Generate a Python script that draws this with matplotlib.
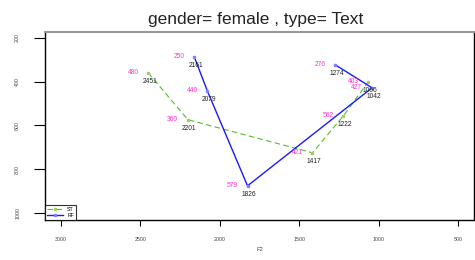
import matplotlib
matplotlib.use("Agg")
import matplotlib.pyplot as plt

# datos: F2 (eje x) y F1 (eje y) por serie
f2_blue = [2161, 2079, 1826, 1042, 1274]
f1_blue = [287, 442, 876, 428, 323]
lab_blue = ["250", "440", "579", "427", "276"]

f2_green = [2451, 2201, 1417, 1222, 1066]
f1_green = [360, 574, 725, 556, 401]
lab_green = ["480", "360", "421", "562", "403"]

series_names = ["ST", "RF"]
x_ticks = [3000, 2500, 2000, 1500, 1000, 500]
y_ticks = [200, 400, 600, 800, 1000]


def main():
    plt.rcParams['font.family'] = ['Liberation Sans', 'DejaVu Sans']
    fig = plt.figure(figsize=(4.75, 2.6), dpi=100)
    ax = fig.add_axes([0.095, 0.154, 0.903, 0.723])

    ax.plot(f2_green, f1_green, color="#55bb33", linestyle=(0, (5, 3)), lw=0.8,
            marker="s", ms=1.5, mfc="#a0d060", mec="#a0d060", label=series_names[0])
    ax.plot(f2_blue, f1_blue, color="#1a1aff", lw=1.0,
            marker="s", ms=1.5, mfc="#8080ff", mec="#8080ff", label=series_names[1])

    # etiquetas de cada punto
    for xs, ys, labs in [(f2_blue, f1_blue, lab_blue), (f2_green, f1_green, lab_green)]:
        for x, y, l in zip(xs, ys, labs):
            ax.annotate(l, (x, y), xytext=(-11, 0), textcoords="offset points",
                        fontsize=4.8, color="#ff33cc", ha="center", va="center")
            ax.annotate(str(x), (x, y), xytext=(1, -6), textcoords="offset points",
                        fontsize=4.8, color="#222222", ha="center", va="center")

    ax.set_xlim(3100, 400)
    ax.set_ylim(1032, 173)
    ax.set_xticks(x_ticks)
    ax.set_xticklabels([str(v) for v in x_ticks], fontsize=3.8, color="#444444")
    ax.set_yticks(y_ticks)
    ax.set_yticklabels([str(v) for v in y_ticks], fontsize=3.8, color="#444444",
                       rotation=90, va="center")
    ax.tick_params(axis="x", length=4, width=0.8, pad=8)
    ax.tick_params(axis="y", length=8, width=0.8, pad=10)
    ax.set_xlabel("F2", fontsize=4.2, color="#444444", labelpad=4)

    for s in ["left", "bottom", "right"]:
        ax.spines[s].set_color("black")
        ax.spines[s].set_linewidth(1.0)
    ax.spines["top"].set_color("#999999")
    ax.spines["top"].set_linewidth(1.5)

    leg = ax.legend(loc="lower left", fontsize=3.8, frameon=True, fancybox=False,
                    edgecolor="black", borderaxespad=0, handlelength=3,
                    borderpad=0.4, labelspacing=0.2)
    leg.get_frame().set_linewidth(0.8)

    fig.suptitle("gender= female , type= Text", x=0.538, y=0.955, fontsize=12.5,
                 color="#222222")

    fig.savefig("out.png", dpi=100)
    plt.close(fig)


if __name__ == "__main__":
    main()
